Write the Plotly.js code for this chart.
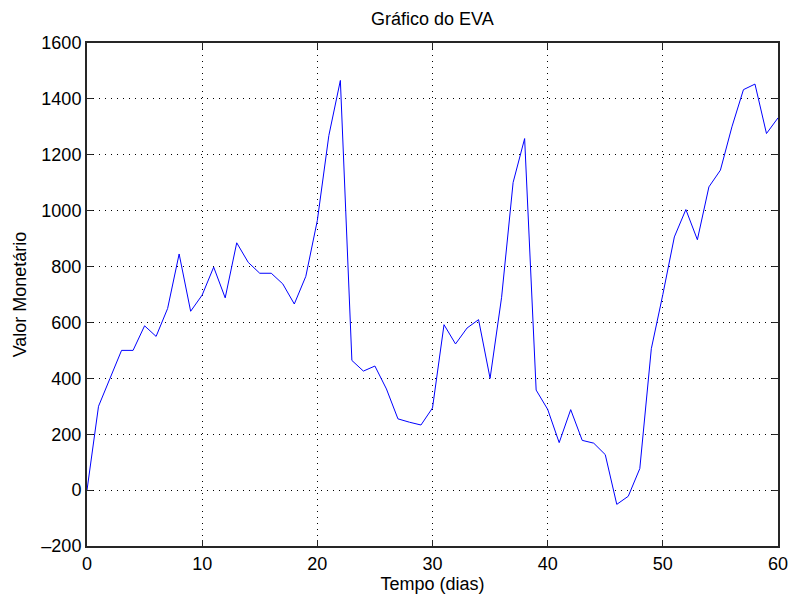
<!DOCTYPE html>
<html>
<head>
<meta charset="utf-8">
<script src="https://cdn.plot.ly/plotly-3.0.1.min.js"></script>
<style>html,body{margin:0;padding:0;background:#fff;}#chart{width:789px;height:594px;}</style>
</head>
<body>
<div id="chart"></div>
<script>
const dias = [0,1,2,3,4,5,6,7,8,9,10,11,12,13,14,15,16,17,18,19,20,21,22,23,24,25,26,27,28,29,30,31,32,33,34,35,36,37,38,39,40,41,42,43,44,45,46,47,48,49,50,51,52,53,54,55,56,57,58,59,60];
const eva = [0,300,400,500,500,588,550,650,845,640,698,798,688,885,815,776,776,738,666,765,965,1269,1466,464,426,444,362,255,243,233,294,592,523,580,610,400,690,1101,1258,358,289,170,288,178,168,127,-51,-22,77,506,700,906,1004,896,1085,1145,1300,1433,1453,1276,1332];
const xTicks = [0,10,20,30,40,50,60];
const yTicks = [-200,0,200,400,600,800,1000,1200,1400,1600];

const font = {family: 'Liberation Sans, Arial, sans-serif', size: 18, color: '#000'};
const axisCommon = {
  showline: true, mirror: 'ticks', linecolor: '#262626', linewidth: 2,
  ticks: 'inside', ticklen: 6, tickcolor: '#262626', tickwidth: 1,
  showgrid: true, gridcolor: '#000', gridwidth: 1, griddash: '1px,5px',
  zeroline: false, tickfont: font
};
Plotly.newPlot('chart', [{
  x: dias, y: eva, type: 'scatter', mode: 'lines',
  line: {color: '#0000ff', width: 1}
}], {
  width: 789, height: 594,
  margin: {l: 87, r: 11, t: 43, b: 48},
  paper_bgcolor: '#fff', plot_bgcolor: '#fff',
  showlegend: false,
  title: {text: 'Gráfico do EVA', font: font, x: 0.548, xanchor: 'center', y: 0.968, yanchor: 'middle'},
  xaxis: Object.assign({}, axisCommon, {range: [0, 60], tickvals: xTicks, ticktext: xTicks.map(String),
    title: {text: 'Tempo (dias)', font: font, standoff: 0}}),
  yaxis: Object.assign({}, axisCommon, {range: [-200, 1600], tickvals: yTicks, ticktext: yTicks.map(v => v < 0 ? '\u2013' + (-v) : String(v)),
    title: {text: 'Valor Monetário', font: font, standoff: 10}})
}, {displayModeBar: false, staticPlot: true});
</script>
</body>
</html>
